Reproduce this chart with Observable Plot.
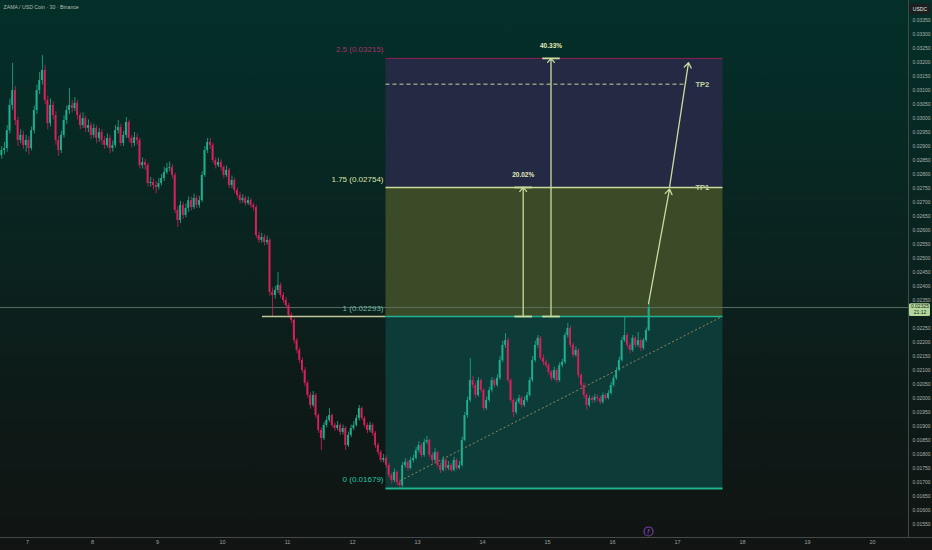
<!DOCTYPE html>
<html><head><meta charset="utf-8">
<script src="https://cdn.jsdelivr.net/npm/d3@7"></script>
<script src="https://cdn.jsdelivr.net/npm/@observablehq/plot@0.6"></script>
<style>
html,body{margin:0;padding:0;background:#111413;}
#chart{width:932px;height:550px;overflow:hidden;
background:linear-gradient(180deg,#042f29 0%,#062a25 20%,#0a231f 45%,#0d1b18 70%,#0f1614 92%,#111413 100%);}
</style></head>
<body><div id="chart"></div>
<script>
// ---- data (ZAMA / USD Coin, Binance) ----
const titleText = "ZAMA / USD Coin · 30 · Binance";
const dayTicks = [7,8,9,10,11,12,13,14,15,16,17,18,19,20];
const priceTicks = [0.0155,0.0160,0.0165,0.0170,0.0175,0.0180,0.0185,0.0190,0.0195,0.0200,0.0205,0.0210,0.0215,0.0220,0.0225,0.0235,0.0240,0.0245,0.0250,0.0255,0.0260,0.0265,0.0270,0.0275,0.0280,0.0285,0.0290,0.0295,0.0300,0.0305,0.0310,0.0315,0.0320,0.0325,0.0330,0.0335];

const firstCandleDay = 6 + 14/24;   // first hourly candle opens on day 6, 14:00
const firstOpen = 0.02868;
const closes = [0.02886,0.02893,0.02957,0.03047,0.03100,0.02993,0.02922,0.02940,0.02904,0.02922,
0.02893,0.02957,0.03029,0.03100,0.03136,0.03172,0.03065,0.02982,0.03047,0.03011,
0.02922,0.02886,0.02940,0.02993,0.03029,0.03047,0.03036,0.03054,0.03011,0.02975,
0.03000,0.02965,0.02975,0.02940,0.02965,0.02929,0.02950,0.02922,0.02904,0.02929,
0.02893,0.02904,0.02957,0.02968,0.02911,0.02940,0.02986,0.02929,0.02911,0.02932,
0.02922,0.02832,0.02843,0.02832,0.02768,0.02772,0.02761,0.02754,0.02768,0.02786,
0.02807,0.02822,0.02825,0.02797,0.02672,0.02636,0.02690,0.02654,0.02679,0.02707,
0.02682,0.02715,0.02690,0.02707,0.02797,0.02886,0.02915,0.02904,0.02850,0.02832,
0.02843,0.02825,0.02797,0.02815,0.02761,0.02779,0.02743,0.02725,0.02707,0.02715,
0.02697,0.02707,0.02690,0.02682,0.02582,0.02565,0.02575,0.02557,0.02565,0.02379,
0.02368,0.02386,0.02404,0.02368,0.02350,0.02332,0.02297,0.02279,0.02207,0.02172,
0.02136,0.02100,0.02054,0.02011,0.01975,0.02011,0.01939,0.01886,0.01857,0.01904,
0.01922,0.01939,0.01904,0.01893,0.01904,0.01879,0.01893,0.01832,0.01868,0.01893,
0.01904,0.01929,0.01964,0.01929,0.01904,0.01886,0.01904,0.01875,0.01832,0.01807,
0.01779,0.01786,0.01761,0.01725,0.01707,0.01736,0.01700,0.01689,0.01761,0.01772,
0.01750,0.01779,0.01786,0.01814,0.01832,0.01797,0.01843,0.01850,0.01797,0.01779,
0.01807,0.01761,0.01743,0.01779,0.01750,0.01761,0.01743,0.01779,0.01750,0.01761,
0.01850,0.01939,0.01993,0.02064,0.02047,0.02011,0.02064,0.02029,0.01964,0.01993,
0.02029,0.02064,0.02047,0.02072,0.02136,0.02190,0.02207,0.02064,0.01993,0.01950,
0.01986,0.02000,0.01975,0.01993,0.02011,0.02064,0.02136,0.02190,0.02215,0.02143,
0.02129,0.02118,0.02093,0.02072,0.02100,0.02064,0.02118,0.02129,0.02225,0.02250,
0.02190,0.02154,0.02172,0.02082,0.02047,0.02011,0.01975,0.02000,0.01993,0.02004,
0.02000,0.01986,0.02011,0.02000,0.02018,0.02047,0.02072,0.02100,0.02136,0.02207,
0.02225,0.02190,0.02172,0.02215,0.02190,0.02207,0.02179,0.02207,0.02243,0.02325];
const highs = [0.02900,0.02915,0.02975,0.03070,0.03197,0.03115,0.03005,0.02960,0.02955,0.02940,
0.02935,0.02970,0.03045,0.03120,0.03165,0.03225,0.03190,0.03080,0.03070,0.03060,
0.03025,0.02935,0.02955,0.03010,0.03045,0.03108,0.03065,0.03075,0.03065,0.03020,
0.03020,0.03010,0.02995,0.02985,0.02980,0.02975,0.02965,0.02960,0.02935,0.02945,
0.02940,0.02920,0.02975,0.02993,0.02980,0.02955,0.03004,0.02995,0.02940,0.02950,
0.02945,0.02930,0.02860,0.02855,0.02840,0.02790,0.02785,0.02775,0.02785,0.02800,
0.02825,0.02840,0.02845,0.02835,0.02805,0.02685,0.02705,0.02700,0.02695,0.02720,
0.02720,0.02730,0.02725,0.02722,0.02810,0.02900,0.02929,0.02929,0.02912,0.02860,
0.02858,0.02852,0.02832,0.02830,0.02822,0.02795,0.02788,0.02752,0.02735,0.02728,
0.02722,0.02720,0.02715,0.02698,0.02690,0.02595,0.02590,0.02585,0.02580,0.02572,
0.02395,0.02400,0.02450,0.02412,0.02378,0.02360,0.02340,0.02305,0.02285,0.02215,
0.02180,0.02145,0.02110,0.02062,0.02020,0.02025,0.02018,0.01945,0.01895,0.01915,
0.01935,0.01964,0.01945,0.01912,0.01918,0.01910,0.01905,0.01900,0.01880,0.01905,
0.01918,0.01940,0.01975,0.01970,0.01935,0.01912,0.01915,0.01910,0.01882,0.01840,
0.01815,0.01800,0.01795,0.01768,0.01732,0.01748,0.01742,0.01710,0.01772,0.01785,
0.01780,0.01790,0.01798,0.01825,0.01845,0.01838,0.01855,0.01865,0.01855,0.01805,
0.01820,0.01812,0.01770,0.01792,0.01785,0.01775,0.01768,0.01790,0.01785,0.01775,
0.01862,0.01950,0.02005,0.02143,0.02080,0.02055,0.02075,0.02070,0.02035,0.02005,
0.02040,0.02075,0.02070,0.02085,0.02150,0.02205,0.02232,0.02215,0.02070,0.02000,
0.01995,0.02012,0.02008,0.02005,0.02022,0.02075,0.02150,0.02205,0.02225,0.02222,
0.02155,0.02138,0.02125,0.02100,0.02112,0.02108,0.02128,0.02140,0.02235,0.02268,
0.02258,0.02198,0.02185,0.02178,0.02090,0.02055,0.02018,0.02010,0.02008,0.02015,
0.02012,0.02008,0.02020,0.02018,0.02028,0.02058,0.02082,0.02110,0.02148,0.02218,
0.02290,0.02232,0.02198,0.02225,0.02220,0.02236,0.02212,0.02215,0.02252,0.02339];
const lows = [0.02855,0.02870,0.02880,0.02945,0.03030,0.02975,0.02900,0.02910,0.02890,0.02880,
0.02870,0.02885,0.02945,0.03015,0.03085,0.03120,0.03050,0.02960,0.02970,0.02995,
0.02905,0.02865,0.02875,0.02930,0.02980,0.03015,0.03020,0.03025,0.02995,0.02960,
0.02965,0.02950,0.02950,0.02925,0.02930,0.02910,0.02915,0.02905,0.02890,0.02895,
0.02875,0.02880,0.02895,0.02945,0.02900,0.02900,0.02930,0.02915,0.02895,0.02900,
0.02905,0.02820,0.02820,0.02815,0.02755,0.02755,0.02745,0.02732,0.02745,0.02760,
0.02775,0.02800,0.02810,0.02785,0.02660,0.02611,0.02625,0.02640,0.02645,0.02665,
0.02670,0.02675,0.02678,0.02680,0.02700,0.02790,0.02875,0.02890,0.02840,0.02820,
0.02825,0.02812,0.02785,0.02790,0.02750,0.02750,0.02732,0.02715,0.02695,0.02698,
0.02688,0.02690,0.02680,0.02670,0.02572,0.02555,0.02555,0.02545,0.02548,0.02365,
0.02293,0.02355,0.02375,0.02358,0.02340,0.02322,0.02288,0.02268,0.02195,0.02160,
0.02125,0.02090,0.02042,0.02000,0.01962,0.01968,0.01928,0.01875,0.01814,0.01850,
0.01895,0.01915,0.01895,0.01882,0.01885,0.01868,0.01870,0.01814,0.01825,0.01860,
0.01885,0.01898,0.01920,0.01920,0.01895,0.01875,0.01878,0.01865,0.01822,0.01797,
0.01770,0.01770,0.01750,0.01715,0.01695,0.01700,0.01688,0.01679,0.01682,0.01752,
0.01740,0.01745,0.01770,0.01780,0.01805,0.01788,0.01790,0.01835,0.01788,0.01768,
0.01772,0.01752,0.01732,0.01738,0.01740,0.01742,0.01735,0.01738,0.01742,0.01745,
0.01755,0.01845,0.01930,0.01985,0.02035,0.02000,0.02005,0.02020,0.01955,0.01958,
0.01985,0.02020,0.02038,0.02040,0.02065,0.02128,0.02180,0.02055,0.01985,0.01932,
0.01942,0.01978,0.01965,0.01968,0.01985,0.02005,0.02058,0.02128,0.02180,0.02135,
0.02118,0.02108,0.02082,0.02062,0.02065,0.02055,0.02058,0.02110,0.02122,0.02215,
0.02180,0.02145,0.02148,0.02072,0.02038,0.02000,0.01957,0.01968,0.01982,0.01985,
0.01990,0.01978,0.01980,0.01992,0.01995,0.02012,0.02040,0.02065,0.02095,0.02130,
0.02200,0.02180,0.02160,0.02165,0.02182,0.02183,0.02168,0.02172,0.02200,0.02238];

// Fibonacci / long-position tool
const fibLevels = ["0", "1", "1.75", "2.5"];
const fibPrices = [0.01679, 0.02293, 0.02754, 0.03215];
const fibLabelColors = ["#2cc3a2", "#6fb5a3", "#d9e4a8", "#a3336a"];
const toolStartDay = 12.515, toolEndDay = 17.70, levelOneStartDay = 10.615;
const tp2Price = 0.03123;
const tpLabels = ["TP1", "TP2"];
const gainLabels = ["20.02%", "40.33%"];
const gainDays = [14.626, 15.054];
const gainTargets = [0.02754, 0.03215];
const gainBase = 0.02293;
const projectionDays = [16.554, 16.877, 17.169];
const projectionPrices = [0.02339, 0.02754, 0.03200];
const trendDays = [12.738, 17.662];
const trendPrices = [0.01707, 0.02290];
const currentPrice = 0.02325;
const countdown = "21:12";
const eventDay = 16.554;

// ---- build ----
const candles = closes.map((c, i) => ({
  t: firstCandleDay + (i + 0.5) / 24,
  open: i ? closes[i - 1] : firstOpen,
  close: c, high: highs[i], low: lows[i]
}));
const UP = "#1fae8f", DOWN = "#d8205a";
const col = d => d.close >= d.open ? UP : DOWN;
const half = 0.34 / 24;

const xDom = [6.58462, 20.5538];
const yDom = [0.015036, 0.034218];
const axisX1 = 20.569, axisX2 = 20.892, axisMid = 20.73;

const zones = [
  {lo: fibPrices[0], hi: fibPrices[1], fill: "#0c3b38"},
  {lo: fibPrices[1], hi: fibPrices[2], fill: "#3b4a27"},
  {lo: fibPrices[2], hi: fibPrices[3], fill: "#252a44"}
];
const fibRows = fibLevels.map((l, i) => ({text: `${l} (${fibPrices[i].toFixed(5)})`, p: fibPrices[i], fill: fibLabelColors[i]}));
const gains = gainLabels.map((g, i) => ({text: g, t: gainDays[i], top: gainTargets[i]}));
const caps = gains.flatMap(g => [{t: g.t, p: gainBase}, {t: g.t, p: g.top}]);
const proj = [
  {x1: projectionDays[0], y1: projectionPrices[0], x2: projectionDays[1], y2: projectionPrices[1] - 0.00006},
  {x1: projectionDays[1], y1: projectionPrices[1], x2: projectionDays[2], y2: projectionPrices[2]}
];
const LIGHT = "#c9dc9e";

const chart = Plot.plot({
  width: 932, height: 550,
  marginLeft: 0, marginRight: 24, marginTop: 0, marginBottom: 13,
  x: {domain: xDom},
  y: {domain: yDom},
  color: {type: "identity"},
  style: {background: "transparent", fontFamily: "'Liberation Sans', Arial, sans-serif", overflow: "visible"},
  marks: [
    Plot.rect(zones, {x1: toolStartDay, x2: toolEndDay, y1: "lo", y2: "hi", fill: "fill"}),
    Plot.ruleY([currentPrice], {stroke: "#5b6e63", strokeWidth: 1}),
    Plot.line(trendDays.map((t, i) => ({t, p: trendPrices[i]})), {x: "t", y: "p", stroke: "#93855a", strokeWidth: 1, strokeDasharray: "1.3,3"}),
    // candles
    Plot.ruleX(candles, {x: "t", y1: "low", y2: "high", stroke: col, strokeWidth: 0.8}),
    Plot.rect(candles, {x1: d => d.t - half, x2: d => d.t + half, y1: "open", y2: "close", fill: col}),
    // fib lines
    Plot.ruleY([fibPrices[1]], {x1: levelOneStartDay, x2: toolStartDay, stroke: "#c2c698", strokeWidth: 1.3}),
    Plot.ruleY([fibPrices[1]], {x1: toolStartDay, x2: toolEndDay, stroke: "#22b291", strokeWidth: 1.5}),
    Plot.ruleY([fibPrices[0]], {x1: toolStartDay, x2: toolEndDay, stroke: "#22b291", strokeWidth: 2}),
    Plot.ruleY([fibPrices[2]], {x1: toolStartDay, x2: toolEndDay, stroke: LIGHT, strokeWidth: 1.5}),
    Plot.ruleY([fibPrices[3]], {x1: toolStartDay, x2: toolEndDay, stroke: "#8c2150", strokeWidth: 1}),
    Plot.ruleY([tp2Price], {x1: toolStartDay, x2: 17.123, stroke: "#8e9b7d", strokeWidth: 1.5, strokeDasharray: "4,3"}),
    // measurement arrows
    Plot.arrow(gains, {x1: "t", x2: "t", y1: gainBase, y2: "top", stroke: LIGHT, strokeWidth: 1.3, headLength: 6, headAngle: 80}),
    Plot.link(caps, {x1: d => d.t - 0.135, x2: d => d.t + 0.135, y1: "p", y2: "p", stroke: LIGHT, strokeWidth: 1.8}),
    Plot.text(gains, {x: "t", y: "top", text: "text", dy: -12.5, fill: "#e3e9bb", fontSize: 6.5, fontWeight: "bold"}),
    // projection path
    Plot.arrow(proj, {x1: "x1", y1: "y1", x2: "x2", y2: "y2", stroke: LIGHT, strokeWidth: 1.3, headLength: 7, headAngle: 70}),
    // labels
    Plot.text(fibRows, {x: 12.477, y: "p", text: "text", fill: "fill", dy: -8.5, textAnchor: "end", fontSize: 8}),
    Plot.text([{t: tpLabels[0], p: fibPrices[2]}, {t: tpLabels[1], p: tp2Price}], {x: 17.277, y: "p", text: "t", textAnchor: "start", fill: "#c8d4a0", fontSize: 7.5, fontWeight: "bold"}),
    // axes
    Plot.axisY(priceTicks, {anchor: "right", tickSize: 0, tickPadding: 4, tickFormat: d => d.toFixed(5), fill: "#a9b2ad", fontSize: 5, label: null}),
    Plot.axisX(dayTicks, {anchor: "bottom", tickSize: 0, tickPadding: 3, tickFormat: d => String(d), fill: "#9aa39f", fontSize: 5.5, label: null}),
    Plot.ruleX([xDom[1]], {stroke: "#3d4b46", strokeWidth: 1}),
    Plot.ruleY([yDom[0]], {x1: xDom[0], x2: axisX2 + 0.1, stroke: "#454a48", strokeWidth: 1.2}),
    // current price label
    Plot.rect([currentPrice], {x1: axisX1, x2: axisX2, y1: d => d - 0.00032, y2: d => d + 0.00014, fill: "#b3d69b", rx: 1.5}),
    Plot.text([currentPrice], {x: axisMid, y: d => d, text: d => d.toFixed(5), dy: -1.5, fill: "#17261a", fontSize: 5}),
    Plot.text([currentPrice], {x: axisMid, y: d => d, text: () => countdown, dy: 4.5, fill: "#17261a", fontSize: 5}),
    // currency box
    Plot.rect(["USDC"], {x1: axisX1, x2: axisX2, y1: 0.03371, y2: 0.03410, fill: "#1b201f", rx: 1.5}),
    Plot.text(["USDC"], {x: axisMid, y: 0.033905, text: d => d, fill: "#e6e9e8", fontSize: 5}),
    // event marker
    Plot.dot([eventDay], {x: d => d, y: 0.015251, r: 4.5, stroke: "#6e42a3", strokeWidth: 1.2, fill: "#16121c"}),
    Plot.text([eventDay], {x: d => d, y: 0.015251, text: () => "ƒ", fill: "#9b6bd6", fontSize: 5.5}),
    // title
    Plot.text([titleText], {frameAnchor: "top-left", dx: 3, dy: 5, text: d => d, textAnchor: "start", fill: "#b3bcae", fontSize: 5.2})
  ]
});
document.getElementById("chart").appendChild(chart);
</script>
</body></html>
